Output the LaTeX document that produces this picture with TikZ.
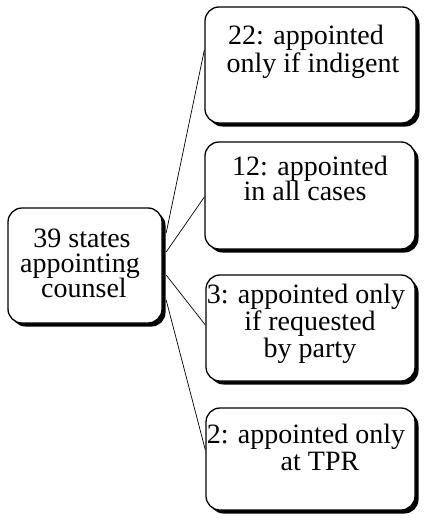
\documentclass[tikz,border=0pt]{standalone}
\usepackage{fontspec}
\setmainfont{Liberation Serif}
\usetikzlibrary{shadows}
\tikzset{
  box/.style={draw=black, line width=1.3pt, fill=white, rounded corners=14pt,
    inner sep=0pt, drop shadow={shadow xshift=3.5pt, shadow yshift=-3.5pt, fill=black, opacity=1}},
  txt/.style={anchor=base, inner sep=0pt, font=\fontsize{28}{27}\selectfont},
  link/.style={draw=black, line width=0.7pt}
}
\begin{document}
\begin{tikzpicture}[x=1pt,y=-1pt]
\useasboundingbox (0,0) rectangle (423,519);
% boxes
\node[box, minimum width=154pt, minimum height=115pt] (lb) at (85,265.5) {};
\node[box, minimum width=211pt, minimum height=116pt] (b1) at (310.5,65) {};
\node[box, minimum width=210pt, minimum height=107pt] (b2) at (310,195.5) {};
\node[box, minimum width=209pt, minimum height=106pt] (b3) at (310.5,328) {};
\node[box, minimum width=209pt, minimum height=102pt] (b4) at (310.5,459) {};
% texts
\node[txt] (l1) at (82,247) {39 states};
\node[txt] (l2) at (80,272) {appointing};
\node[txt] (l3) at (84,297) {counsel};
\node[txt] (a1) at (306,45) {22: appointed};
\node[txt] (a2) at (313,72) {only if indigent};
\node[txt] (c1) at (310,175) {12: appointed};
\node[txt] (c2) at (305,200) {in all cases};
\node[txt] (d1) at (306,303) {3: appointed only};
\node[txt] (d2) at (310,330) {if requested};
\node[txt] (d3) at (310,357) {by party};
\node[txt] (e1) at (306,443) {2: appointed only};
\node[txt] (e2) at (320,470) {at TPR};
% connectors
\draw[link] ([xshift=3.5pt,yshift=32.5pt]lb.east) -- ([yshift=15pt]b1.west);
\draw[link] ([xshift=3.5pt,yshift=13.5pt]lb.east) -- ([yshift=-1.5pt]b2.west);
\draw[link] ([xshift=3.5pt,yshift=-9.5pt]lb.east) -- ([yshift=3pt]b3.west);
\draw[link] ([xshift=3.5pt,yshift=-34.5pt]lb.east) -- ([yshift=9pt]b4.west);
\end{tikzpicture}
\end{document}
